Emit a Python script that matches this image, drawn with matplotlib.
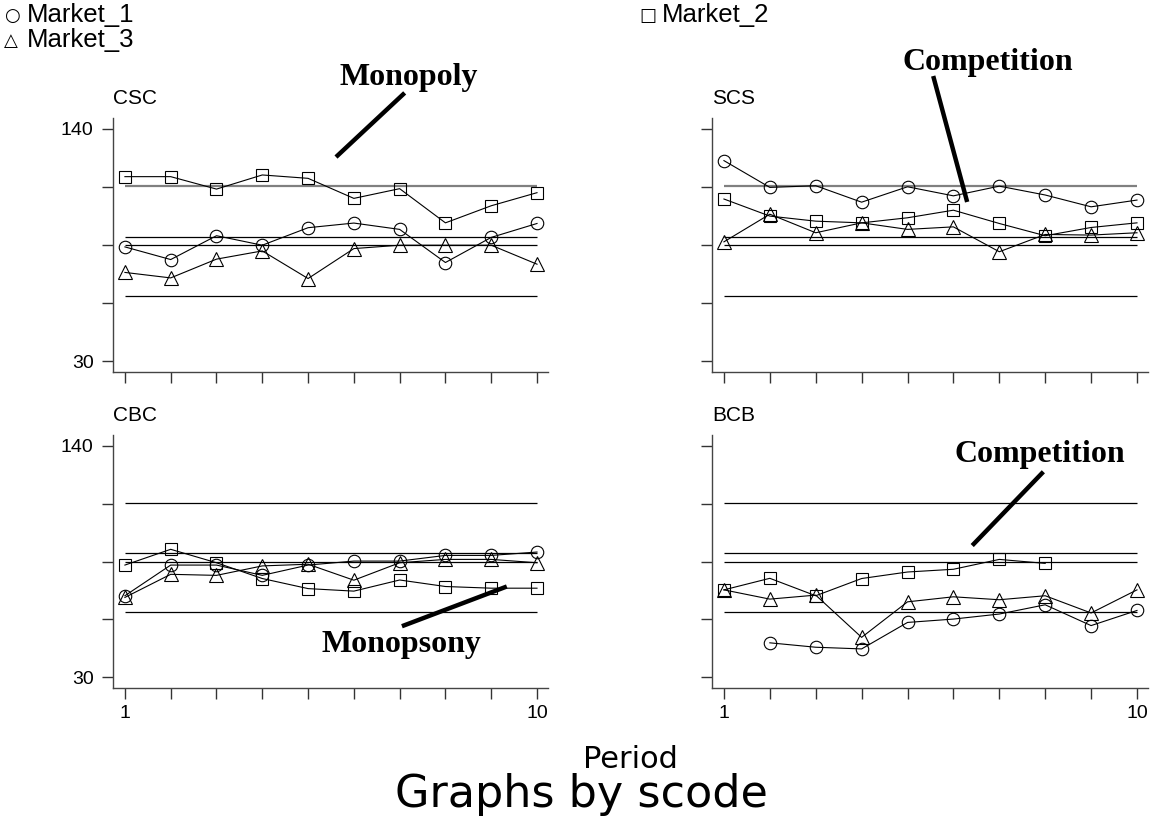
import numpy as np
import matplotlib
matplotlib.use("Agg")
import matplotlib.pyplot as plt

plt.rcParams['font.family'] = ['Liberation Sans', 'DejaVu Sans']

# Data (Period 1..10)
periods = np.arange(1, 11)
panels = ["CSC", "SCS", "CBC", "BCB"]

market_1 = {
    "CSC": [84.1, 78.1, 89.4, 84.9, 93.2, 95.4, 92.4, 76.7, 88.6, 95.2],
    "SCS": [125.0, 112.3, 113.1, 105.3, 112.6, 108.3, 112.9, 108.7, 103.1, 106.3],
    "CBC": [68.7, 83.3, 83.3, 78.4, 83.3, 85.2, 85.2, 87.9, 87.9, 89.5],
    "BCB": [np.nan, 46.3, 44.2, 43.4, 56.0, 57.6, 60.0, 64.4, 54.5, 61.7],
}
market_2 = {
    "CSC": [117.4, 117.4, 111.5, 118.2, 116.6, 107.1, 111.7, 95.5, 103.6, 109.8],
    "SCS": [106.8, 98.7, 96.3, 95.5, 97.9, 101.5, 95.2, 89.4, 93.3, 95.5],
    "CBC": [83.3, 90.8, 84.4, 76.9, 72.1, 70.9, 76.2, 73.1, 72.3, 72.3],
    "BCB": [71.5, 77.0, 68.7, 76.9, 80.0, 81.3, 86.0, 84.1, np.nan, np.nan],
}
market_3 = {
    "CSC": [72.0, 69.4, 78.3, 82.2, 69.1, 83.3, 84.9, 84.9, 84.9, 75.9],
    "SCS": [86.5, 99.6, 90.8, 95.5, 92.4, 93.6, 81.8, 90.0, 89.7, 90.8],
    "CBC": [67.9, 78.9, 78.4, 82.9, 83.7, 76.1, 84.4, 86.0, 86.0, 84.4],
    "BCB": [71.5, 67.1, 69.0, 48.9, 65.8, 68.2, 66.8, 68.7, 60.5, 71.5],
}

# Reference lines (same in every panel)
ref_lines = [113, 89, 85, 61]

y_ticks = [30, 57.5, 85, 112.5, 140]

# Annotations: panel -> (text, text position, line start, line end) in data units
notes = {
    "CSC": ("Monopoly", (7.2, 160.9), (5.61, 126.7), (7.11, 157.1)),
    "SCS": ("Competition", (6.74, 168.0), (5.56, 165.1), (6.30, 105.4)),
    "CBC": ("Monopsony", (7.05, 41.9), (7.05, 54.2), (9.34, 73.1)),
    "BCB": ("Competition", (7.88, 132.4), (7.96, 127.7), (6.41, 92.6)),
}

W, H = 1152, 817
fig = plt.figure(figsize=(W / 100, H / 100), dpi=100)


def px_axes(x0, y0, x1, y1):
    return fig.add_axes([x0 / W, 1 - y1 / H, (x1 - x0) / W, (y1 - y0) / H])


boxes = {
    "CSC": (113, 118, 548, 372),
    "SCS": (712, 118, 1148, 372),
    "CBC": (113, 435, 548, 688),
    "BCB": (712, 435, 1148, 688),
}

for i, name in enumerate(panels):
    ax = px_axes(*boxes[name])
    top = i < 2
    left = i % 2 == 0
    for yv in ref_lines:
        if top and yv == 113:
            ax.hlines(yv, 1, 10, color='#808080', lw=1.6, zorder=1)
        else:
            ax.hlines(yv, 1, 10, color='black', lw=0.9, zorder=1)
    ax.plot(periods, market_1[name], color='black', lw=0.8, marker='o',
            ms=9, mfc='none', mec='black', mew=0.8)
    ax.plot(periods, market_2[name], color='black', lw=0.8, marker='s',
            ms=8.5, mfc='none', mec='black', mew=0.8)
    ax.plot(periods, market_3[name], color='black', lw=0.8, marker='^',
            ms=10, mfc='none', mec='black', mew=0.8)

    ax.set_xlim(0.74, 10.24)
    ax.set_ylim(24.8, 145.2)
    for s in ['top', 'right']:
        ax.spines[s].set_visible(False)
    for s in ['left', 'bottom']:
        ax.spines[s].set_color('#444444')
        ax.spines[s].set_linewidth(1.0)
    ax.set_xticks(periods)
    ax.set_yticks(y_ticks)
    ax.tick_params(axis='x', length=8, width=1, color='#333333', pad=4, labelsize=14)
    ax.tick_params(axis='y', length=8, width=1, color='#333333', pad=6, labelsize=14)
    ax.set_yticklabels(['30', '', '', '', '140'] if left else [''] * 5)
    if top:
        ax.set_xticklabels([''] * 10)
    else:
        ax.set_xticklabels(['1'] + [''] * 8 + ['10'])
    ax.set_title(name, loc='left', fontsize=15, pad=10)

    txt, tpos, p1, p2 = notes[name]
    ax.text(tpos[0], tpos[1], txt, family='Liberation Serif', fontsize=23,
            fontweight='bold', ha='center', va='baseline', clip_on=False)
    ax.plot([p1[0], p2[0]], [p1[1], p2[1]], color='black', lw=3.2,
            solid_capstyle='butt', clip_on=False)

# Legend at the top
sym = ['DejaVu Sans']
fig.text(4 / W, 1 - 16 / H, "\u25CB", fontsize=13, family=sym, va='center')
fig.text(27 / W, 1 - 15 / H, "Market_1", fontsize=18.5, va='center')
fig.text(4 / W, 1 - 41 / H, "\u25B3", fontsize=13, family=sym, va='center')
fig.text(27 / W, 1 - 40 / H, "Market_3", fontsize=18.5, va='center')
fig.text(639 / W, 1 - 16 / H, "\u25A1", fontsize=13, family=sym, va='center')
fig.text(662 / W, 1 - 15 / H, "Market_2", fontsize=18.5, va='center')

fig.text(630 / W, 1 - 760 / H, "Period", fontsize=22, family=sym,
         ha='center', va='center')
fig.text(581 / W, 1 - 795 / H, "Graphs by scode", fontsize=32, family=sym,
         ha='center', va='center')

fig.savefig("out.png", dpi=100)
